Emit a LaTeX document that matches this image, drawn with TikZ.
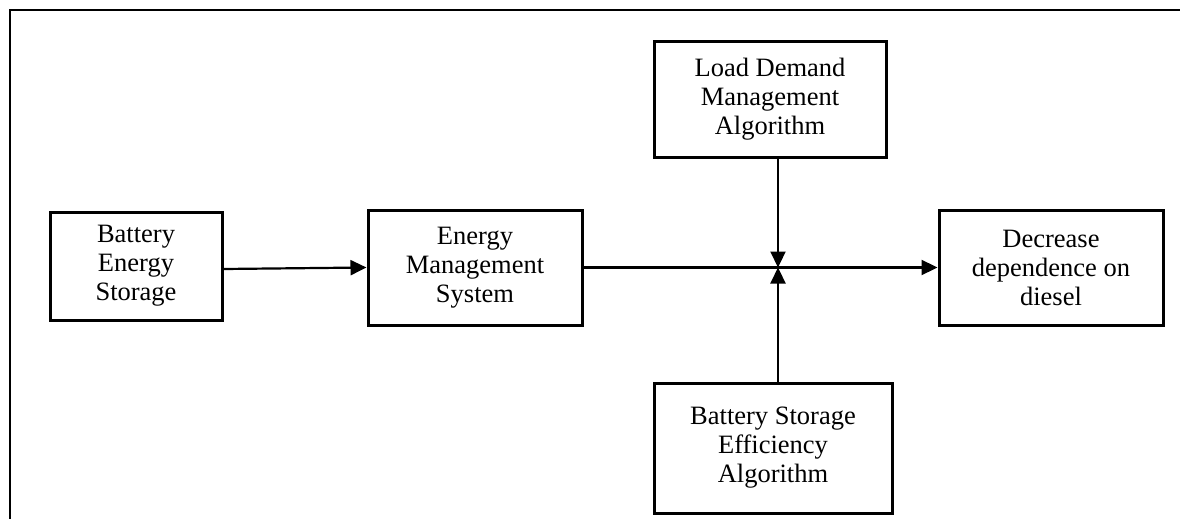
\documentclass[tikz,border=0pt]{standalone}
\usepackage{fontspec}
\setmainfont{Liberation Serif}
\usetikzlibrary{arrows.meta}
\begin{document}
\begin{tikzpicture}[x=1pt,y=-1pt,
  blockbox/.style={draw,line width=3pt,align=center,inner sep=0pt,
    font=\fontsize{26.5}{29}\selectfont},
  flow/.style={line width=2.2pt,-{Triangle[length=16pt,width=15pt]}}]
  \useasboundingbox (0,0) rectangle (1180,519);
  % outer frame
  \draw[line width=2.6pt] (10,519) -- (10,10) -- (1180,10);
  % blocks
  \node[blockbox,minimum width=172pt,minimum height=108pt] (bes) at (136,266)
    {Battery\\Energy\\Storage};
  \node[blockbox,minimum width=214pt,minimum height=115pt] (ems) at (475,267.5)
    {Energy\\Management\\System};
  \node[blockbox,minimum width=232pt,minimum height=115pt] (ldm) at (770,99.5)
    {Load Demand\\Management\\Algorithm};
  \node[blockbox,minimum width=224pt,minimum height=115pt] (dec) at (1051,267.5)
    {Decrease\\dependence on\\diesel};
  \node[blockbox,minimum width=238pt,minimum height=130pt] (bse) at (773,448)
    {Battery Storage\\Efficiency\\Algorithm};
  % junction on the main flow line
  \coordinate (j) at (778,267.5);
  % connectors
  \draw[flow] ([yshift=-3pt]bes.east) -- (ems.west);
  \draw[flow] (ems.east) -- (dec.west);
  \draw[flow] (ldm.south -| j) -- (j);
  \draw[flow] (bse.north -| j) -- (j);
\end{tikzpicture}
\end{document}
